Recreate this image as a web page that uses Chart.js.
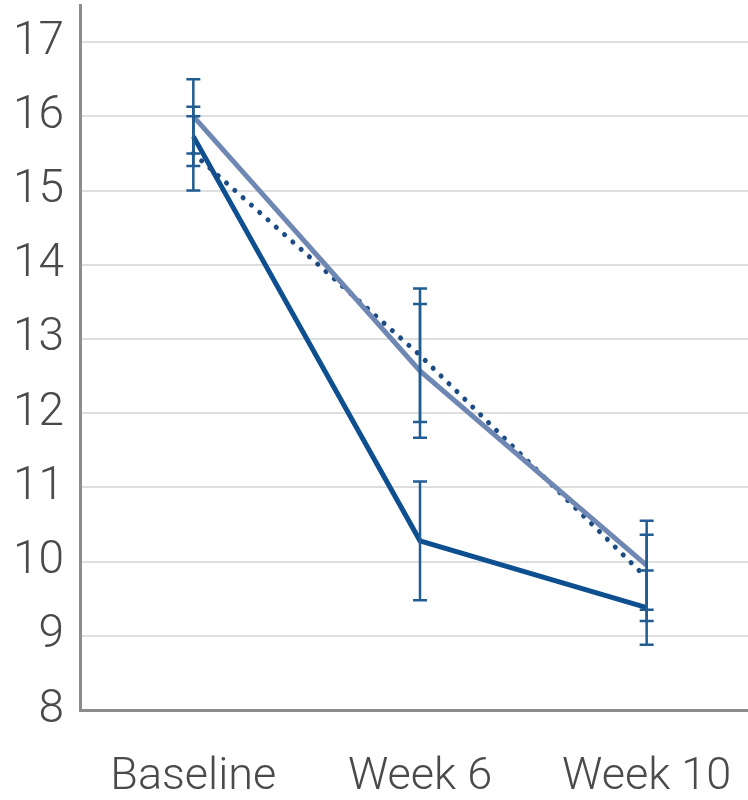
<!DOCTYPE html>
<html>
<head>
<meta charset="utf-8">
<script src="https://cdn.jsdelivr.net/npm/chart.js@4/dist/chart.umd.min.js"></script>
<style>
  html, body { margin: 0; padding: 0; background: #ffffff; overflow: hidden; }
  #wrap { position: relative; width: 760px; height: 800px; }
</style>
</head>
<body>
<div id="wrap"><canvas id="chart"></canvas></div>
<script>
// Visit labels
const visits = ['Baseline', 'Week 6', 'Week 10'];

// Group means
const groupA = [15.73, 10.28, 9.38];   // solid dark blue
const groupB = [16.0, 12.57, 9.95];    // solid slate blue
const groupC = [15.5, 12.78, 9.78];    // dotted

// Half-widths of the error bars
const errA = [0.4, 0.8, 0.5];
const errB = [0.5, 0.9, 0.6];
const errC = [0.5, 0.9, 0.58];

// Y-axis tick values
const yTicks = [8, 9, 10, 11, 12, 13, 14, 15, 16, 17];

const errorBarPlugin = {
  id: 'errorBars',
  afterDatasetsDraw(chart) {
    const ctx = chart.ctx;
    const x = chart.scales.x, y = chart.scales.y;
    const sets = [[groupB, errB], [groupC, errC], [groupA, errA]];
    ctx.save();
    ctx.strokeStyle = '#215d92';
    ctx.lineWidth = 2.5;
    const cap = 7;
    sets.forEach(([vals, errs]) => {
      vals.forEach((v, i) => {
        const px = x.getPixelForValue(i);
        const top = y.getPixelForValue(v + errs[i]);
        const bot = y.getPixelForValue(v - errs[i]);
        ctx.beginPath();
        ctx.moveTo(px, top); ctx.lineTo(px, bot);
        ctx.moveTo(px - cap, top); ctx.lineTo(px + cap, top);
        ctx.moveTo(px - cap, bot); ctx.lineTo(px + cap, bot);
        ctx.stroke();
      });
    });
    ctx.restore();
  }
};

new Chart(document.getElementById('chart'), {
  type: 'line',
  data: {
    labels: visits,
    datasets: [
      {
        data: groupB,
        borderColor: '#6f88b3',
        borderWidth: 5,
        pointRadius: 0,
        tension: 0
      },
      {
        data: groupC,
        borderColor: '#1d4c84',
        borderWidth: 5,
        borderDash: [0.1, 11],
        borderCapStyle: 'round',
        pointRadius: 0,
        tension: 0
      },
      {
        data: groupA,
        borderColor: '#0d4f8f',
        borderWidth: 5,
        pointRadius: 0,
        tension: 0
      }
    ]
  },
  options: {
    responsive: true,
    maintainAspectRatio: false,
    animation: false,
    layout: { padding: { top: 5, right: 0, left: 0, bottom: 0 } },
    plugins: {
      legend: { display: false },
      tooltip: { enabled: false }
    },
    scales: {
      x: {
        offset: true,
        grid: { display: false, drawTicks: false },
        border: { display: true, color: '#8c8c8c', width: 3 },
        ticks: {
          color: '#4a4a4a',
          padding: 41,
          font: { family: 'Roboto', size: 45, weight: 300 }
        },
        afterFit(scale) {
          scale.height = 90;
          scale.paddingLeft = 0;
          scale.paddingRight = 0;
        }
      },
      y: {
        min: 8,
        max: 17.5,
        afterBuildTicks(scale) {
          scale.ticks = yTicks.map(v => ({ value: v }));
        },
        grid: { color: '#dedede', lineWidth: 2, drawTicks: false },
        border: { display: true, color: '#8c8c8c', width: 3 },
        ticks: {
          color: '#4a4a4a',
          padding: 16,
          font: { family: 'Roboto', size: 46, weight: 300 }
        },
        afterFit(scale) {
          scale.width = 80;
          scale.paddingTop = 0;
          scale.paddingBottom = 0;
        }
      }
    }
  },
  plugins: [errorBarPlugin]
});
</script>
</body>
</html>
